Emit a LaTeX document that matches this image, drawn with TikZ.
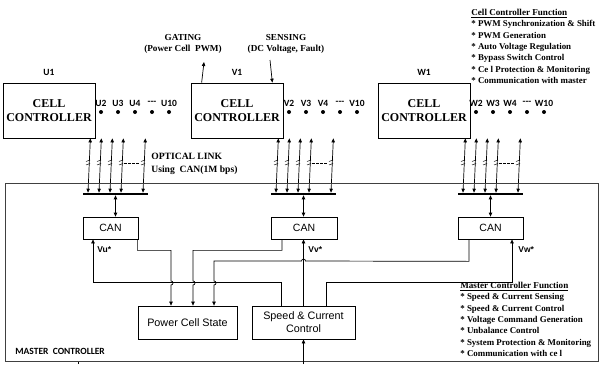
\documentclass[tikz,border=0pt]{standalone}
\usepackage{fontspec}
\setmainfont{Liberation Serif}
\setsansfont{Liberation Sans}
\newfontfamily\carlito{Carlito}
\usetikzlibrary{calc,arrows.meta}
\newcommand\fnhead[1]{{\fontsize{9.1}{11.3}\selectfont\underline{#1}}}

\begin{document}
\begin{tikzpicture}[x=1pt, y=-1pt, >={Triangle[length=4pt,width=3.4pt]}, line width=0.7pt,
  cellbox/.style={draw, minimum width=88pt, minimum height=55pt, align=center,
    font=\fontsize{12}{14}\selectfont\bfseries},
  canbox/.style={draw, minimum height=22pt, font=\sffamily\fontsize{10.5}{12}\selectfont},
  ctrlbox/.style={draw, minimum width=#1, minimum height=33pt, align=center,
    font=\sffamily\fontsize{10.8}{13}\selectfont},
  tag/.style={font=\carlito\bfseries\fontsize{9.5}{10}\selectfont, inner sep=0pt},
  ref/.style={font=\sffamily\bfseries\fontsize{8.5}{9}\selectfont, anchor=west, inner sep=0pt},
  note/.style={font=\bfseries\fontsize{8.9}{11.3}\selectfont, align=left, anchor=north west, inner sep=0pt},
  link/.style={<->},
  hop/.style={radius=2pt}]
  \useasboundingbox (0,0) rectangle (601,364);
  % ------------------------------------------------------------------ cell controllers
  \foreach \ph/\cx in {U/49, V/237, W/424} {
    \node[cellbox] (cell\ph) at (\cx,110.5) {CELL\\CONTROLLER};
    \node[tag, anchor=south] (lab\ph) at ([yshift=7pt]cell\ph.north) {\ph1};
  }
  % the other cells of each phase: name / offset from the box
  \foreach \ph/\r in {U/93, V/281, W/468} {
    \foreach \n/\d in {2/8, 3/25, 4/42, 10/76} {
      \node[tag] (lab\ph\n) at (\r+\d,103) {\ph\n};
      \fill (\r+\d,112) circle (2pt);
    }
    \node[tag] (lab\ph x) at (\r+59,103) {-{}-{}-};
    \fill (\r+59,112) circle (2pt);
  }
  % ------------------------------------------------------------------ optical links
  \foreach \ph/\r in {U/93, V/281, W/468} {
    \coordinate (bus\ph) at (\r+22.5,194);
    \draw[line width=2.6pt] ($(bus\ph)+(-32.5,0)$) -- ($(bus\ph)+(32.5,0)$);
    \foreach \d in {-5,6,17,28,50} {
      \draw[link] ($(cell\ph.south east)+(\d,0)$) -- ($(bus\ph)+(\d-22.5,-1.3)$);
      \draw[line width=0.5pt] (\r+\d-2,161.5) -- (\r+\d+2,160) (\r+\d-2,165) -- (\r+\d+2,163.5);
    }
    \draw[dash pattern=on 2.5pt off 1.5pt, line width=0.5pt] (\r+31,163) -- (\r+47,163);
  }
  \node[note, anchor=west, font=\bfseries\fontsize{9.6}{13}\selectfont] (optic) at (151,163.5)
    {OPTICAL LINK\\Using~~CAN(1M bps)};
  % ------------------------------------------------------------------ gating / sensing
  \node[font=\bfseries\fontsize{9.2}{11}\selectfont, align=center, inner sep=0pt] (gating) at (183,44)
    {GATING\\(Power Cell~~PWM)};
  \node[font=\bfseries\fontsize{9.2}{11}\selectfont, align=center, inner sep=0pt] (sensing) at (286,44)
    {SENSING\\(DC Voltage, Fault)};
  \coordinate (gateTip) at (204,62);
  \coordinate (senseTail) at (270,60);
  \draw[->] ([xshift=11pt]cellV.north west) -- (gateTip);
  \draw[->] (senseTail) -- ([xshift=-11pt]cellV.north east);
  \node[note] (cellfn) at (471,9)
    {\fnhead{Cell Controller Function}\\
     * PWM Synchronization \& Shift\\
     * PWM Generation\\
     * Auto Voltage Regulation\\
     * Bypass Switch Control\\
     * Ce l Protection \& Monitoring\\
     * Communication with master};
  % ------------------------------------------------------------------ master controller
  \node[draw=black!75, minimum width=593pt, minimum height=178pt, anchor=north west, inner sep=0pt]
    (master) at (5,183) {};
  \node[font=\carlito\bfseries\fontsize{9.5}{10}\selectfont, anchor=west, inner sep=0pt] (masterlab)
    at (15,351) {MASTER~~CONTROLLER};
  \node[canbox, minimum width=55pt] (canU) at (110.5,228) {CAN};
  \node[canbox, minimum width=66pt] (canV) at (304,228) {CAN};
  \node[canbox, minimum width=65pt] (canW) at (490.5,228) {CAN};
  \foreach \ph in {U,V,W}
    \draw[link] ($(bus\ph)+(0,1.3)$) -- (bus\ph |- can\ph.north);
  \node[ctrlbox=99pt] (pcs) at (187.5,322.5) {Power Cell State};
  \node[ctrlbox=103pt] (sc) at (303.5,322.5) {Speed \& Current\\Control};
  % CAN -> power cell state
  \draw[->] ([xshift=-1pt]canU.south east) -- ++(0,11) -| (171,281)
    arc[hop, start angle=90, end angle=-90] -- (pcs.north -| 171,0);
  \draw[->] ([xshift=-22pt]canV.south) -- ++(0,11) -| (193,281)
    arc[hop, start angle=90, end angle=-90] -- (pcs.north -| 193,0);
  \draw[->] ([xshift=-21.5pt]canW.south) -- ++(0,22) -- (305.5,261)
    arc[hop, start angle=0, end angle=180] -| (214,281)
    arc[hop, start angle=90, end angle=-90] -- (pcs.north -| 214,0);
  % voltage references
  \draw[->] ([xshift=-22.5pt]sc.north) -- ++(0,-23) -| ([xshift=-17.5pt]canU.south);
  \draw[->] (sc.north) -- (sc.north |- canV.south);
  \draw[->] ([xshift=22.5pt]sc.north) -- ++(0,-23) -| ([xshift=21.5pt]canW.south);
  \node[ref] (refU) at (97,250) {Vu*};
  \node[ref] (refV) at (308,250) {Vv*};
  \node[ref] (refW) at (518,250) {Vw*};
  \coordinate (feed) at (303.5,364);
  \draw[->] (feed) -- (sc.south);
  \coordinate (tick) at (78,364);
  \draw (tick) -- (tick |- master.south);
  \node[note] (masterfn) at (460,282)
    {\fnhead{Master Controller Function}\\
     * Speed \& Current Sensing\\
     * Speed \& Current Control\\
     * Voltage Command Generation\\
     * Unbalance Control\\
     * System Protection \& Monitoring\\
     * Communication with ce l};
\end{tikzpicture}
\end{document}
